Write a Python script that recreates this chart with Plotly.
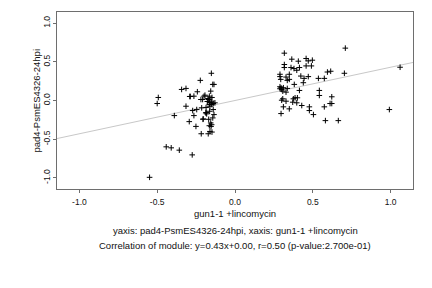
import plotly.graph_objects as go

# Left cluster + right cluster values (gun1-1 +lincomycin vs pad4-PsmES4326-24hpi)
x_vals = [
    -0.493, -0.500, -0.549, -0.442, -0.410, -0.358, -0.275, -0.390, -0.315, -0.294,
    -0.343, -0.315, -0.291, -0.287, -0.264, -0.242, -0.223, -0.219, -0.208, -0.199,
    -0.251, -0.217, -0.206, -0.188, -0.182, -0.172, -0.174, -0.165, -0.163, -0.161,
    -0.156, -0.152, -0.143, -0.135, -0.156, -0.148, -0.150, -0.140, -0.135, -0.272,
    -0.264, -0.246, -0.214, -0.185, -0.169, -0.163, -0.150, -0.154, -0.161, -0.169,
    -0.161, -0.150, -0.129, -0.140, -0.165, -0.148, -0.193, -0.178, -0.186, -0.204,
    -0.143, -0.165,
    0.317, 0.365, 0.407, 0.457, 0.471, 0.497, 0.317, 0.317, 0.360, 0.379,
    0.414, 0.397, 0.457, 0.491, 0.289, 0.289, 0.294, 0.328, 0.349, 0.336,
    0.349, 0.423, 0.444, 0.471, 0.439, 0.536, 0.574, 0.594, 0.615, 0.703,
    0.709, 1.061, 0.992, 0.289, 0.296, 0.300, 0.289, 0.311, 0.336, 0.307,
    0.328, 0.381, 0.414, 0.307, 0.300, 0.328, 0.375, 0.386, 0.401, 0.371,
    0.397, 0.311, 0.349, 0.429, 0.478, 0.478, 0.542, 0.542, 0.622, 0.611,
    0.622, 0.574, 0.296, 0.504, 0.581, 0.664,
]
y_vals = [
    0.039, -0.039, -0.993, -0.599, -0.612, -0.642, -0.703, -0.195, -0.074, -0.273,
    0.143, 0.156, 0.052, 0.052, 0.056, 0.113, 0.260, 0.013, 0.013, 0.056,
    -0.335, -0.430, -0.243, -0.160, -0.173, -0.430, 0.026, 0.056, -0.030, -0.074,
    -0.290, 0.352, 0.208, 0.208, 0.121, -0.408, -0.313, -0.117, -0.182, -0.130,
    -0.195, -0.117, -0.095, -0.156, -0.243, -0.139, -0.052, -0.335, -0.400, 0.013,
    -0.026, -0.009, -0.030, -0.039, -0.052, 0.039, 0.069, -0.013, -0.091, -0.238,
    -0.225, -0.326,
    0.612, 0.534, 0.508, 0.543, 0.512, 0.521, 0.465, 0.426, 0.426, 0.413,
    0.426, 0.391, 0.447, 0.447, 0.339, 0.309, 0.273, 0.303, 0.339, 0.260,
    0.273, 0.316, 0.286, 0.309, 0.230, 0.286, 0.286, 0.368, 0.378, 0.352,
    0.677, 0.430, -0.117, 0.178, 0.165, 0.143, 0.152, 0.165, 0.156, 0.121,
    0.108, 0.208, 0.130, 0.022, 0.004, -0.009, 0.022, 0.035, 0.035, -0.022,
    -0.030, -0.082, -0.108, -0.065, -0.082, -0.130, 0.130, 0.065, 0.048, -0.039,
    -0.039, -0.082, -0.169, -0.182, -0.260, -0.260,
]

slope = 0.43
intercept = 0.00
axis_lim = [-1.144, 1.144]
tick_vals = [-1.0, -0.5, 0.0, 0.5, 1.0]
tick_text = ["-1.0", "-0.5", "0.0", "0.5", "1.0"]

x_title = "gun1-1 +lincomycin"
y_title = "pad4-PsmES4326-24hpi"
sub1 = "yaxis: pad4-PsmES4326-24hpi, xaxis: gun1-1 +lincomycin"
sub2 = "Correlation of module: y=0.43x+0.00, r=0.50 (p-value:2.700e-01)"

FONT = "Liberation Sans, Arial, sans-serif"
fs = 9.5

fig = go.Figure()
fig.add_trace(go.Scatter(
    x=axis_lim, y=[slope * v + intercept for v in axis_lim],
    mode="lines", line=dict(color="#c8c8c8", width=1), hoverinfo="skip",
))
fig.add_trace(go.Scatter(
    x=x_vals, y=y_vals, mode="markers",
    marker=dict(symbol="cross-thin", size=4, line=dict(color="black", width=1)),
))

axis_common = dict(
    range=axis_lim, tickvals=tick_vals, ticktext=tick_text,
    showgrid=False, zeroline=False, showline=True, mirror=True,
    linecolor="#6e6e6e", linewidth=1, ticks="outside", ticklen=3,
    tickcolor="#6e6e6e", tickfont=dict(family=FONT, size=8.5, color="#111"),
)

fig.update_layout(
    width=432, height=288,
    margin=dict(l=57, r=19, t=12, b=99),
    paper_bgcolor="white", plot_bgcolor="white",
    showlegend=False,
    xaxis=dict(**axis_common, ticklabelstandoff=2),
    yaxis=dict(**axis_common, tickangle=-90, ticklabelstandoff=0),
    font=dict(family=FONT, size=fs, color="#111"),
    annotations=[
        dict(text=x_title, xref="paper", yref="paper", x=0.5, y=0, yanchor="middle",
             yshift=-24, showarrow=False, font=dict(size=fs)),
        dict(text=sub1, xref="paper", yref="paper", x=0.5, y=0, yanchor="middle",
             yshift=-41, showarrow=False, font=dict(size=fs)),
        dict(text=sub2, xref="paper", yref="paper", x=0.5, y=0, yanchor="middle",
             yshift=-56, showarrow=False, font=dict(size=fs)),
        dict(text=y_title, xref="paper", yref="paper", x=0, y=0.5, xanchor="center",
             xshift=-21, textangle=-90, showarrow=False, font=dict(size=fs)),
    ],
)

fig.write_html("out.html")
